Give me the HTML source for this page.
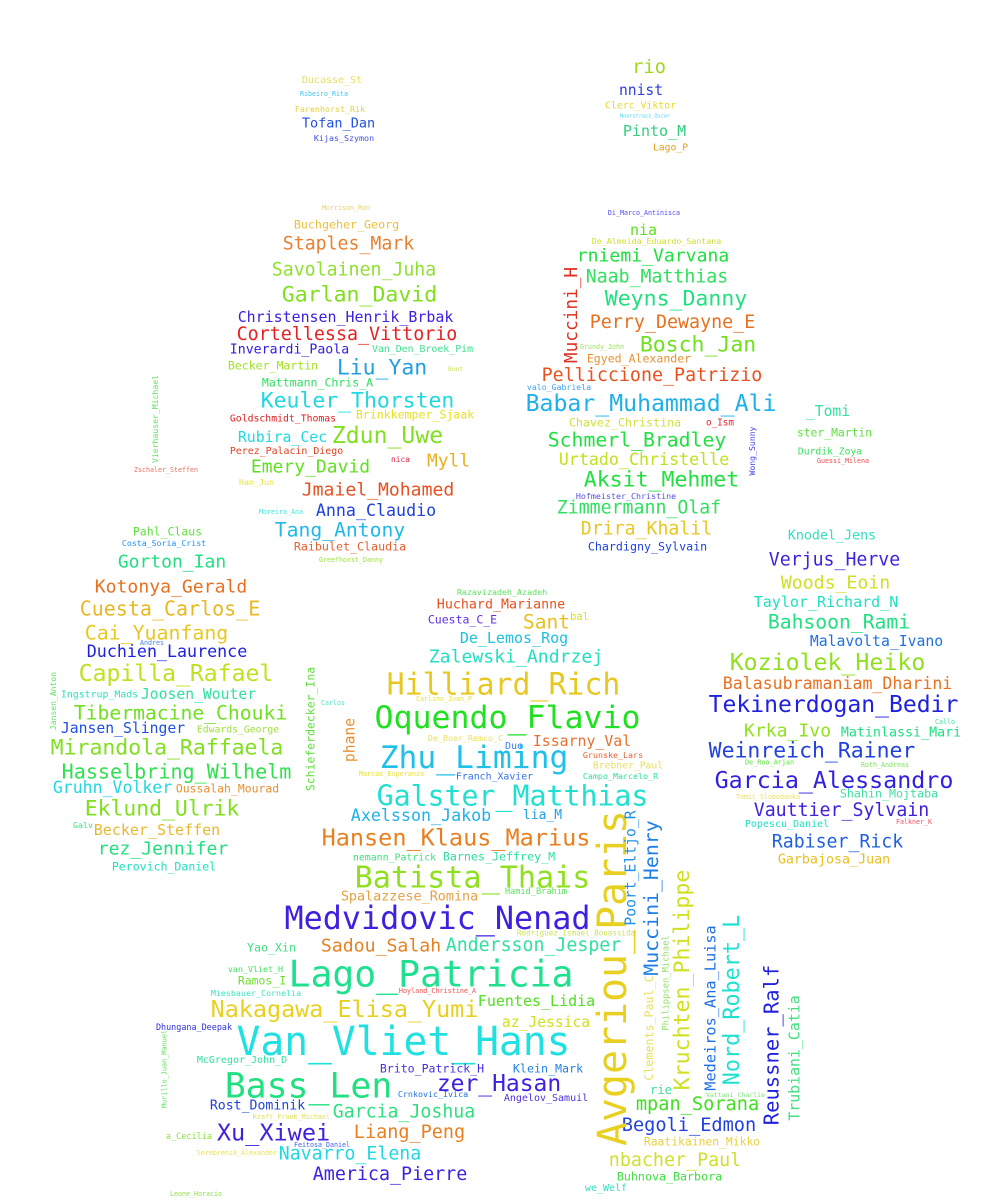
<!DOCTYPE html>
<html>
<head>
<meta charset="utf-8">
<style>
html,body{margin:0;padding:0;background:#fff;}
#cloud{position:relative;width:1000px;height:1200px;overflow:hidden;background:#fff;}
.w{position:absolute;white-space:nowrap;line-height:1;font-family:"DejaVu Sans Mono","Liberation Mono",monospace;}
</style>
</head>
<body>
<div id="cloud"></div>
<script>
// horizontal words: text, left x, right x, center y, colour
const hWords = [
["rio",632,666,66,"#a0d820"],["Ducasse_St",302,362,80,"#e8e060"],["nnist",619,663,90,"#3040e0"],
["Ribeiro_Rita",300,348,93,"#40c0f0"],["Clerc_Viktor",605,676,105,"#e8d830"],["Farenhorst_Rik",295,365,108,"#e0d040"],
["Noorstrasz_Oscar",620,670,116,"#50d0f0"],["Tofan_Dan",302,375,123,"#2050e0"],["Pinto_M",623,686,130,"#30d080"],
["Kijas_Szymon",314,374,137,"#4050e0"],["Lago_P",653,688,147,"#e0a020"],
["Morrison_Ron",322,370,207,"#e8d070"],["Buchgeher_Georg",294,399,224,"#e8c040"],["Staples_Mark",283,414,243,"#e88030"],
["Savolainen_Juha",272,436,269,"#90e030"],["Garlan_David",282,437,294,"#80e020"],["Christensen_Henrik_Brbak",238,453,316,"#4020e0"],
["Cortellessa_Vittorio",237,457,334,"#e82020"],["Inverardi_Paola",230,349,349,"#3020e0"],["Van_Den_Broek_Pim",372,473,349,"#40e090"],
["Becker_Martin",228,318,365,"#a0e020"],["Liu_Yan",337,427,367,"#20a0e0"],["Bont",448,463,369,"#d0e060"],
["Mattmann_Chris_A",262,373,382,"#30e060"],["Keuler_Thorsten",261,454,400,"#20d8e0"],["Brinkkemper_Sjaak",356,474,414,"#e8e020"],
["Goldschmidt_Thomas",230,336,418,"#e02020"],["Rubira_Cec",238,327,437,"#20d8e0"],["Zdun_Uwe",332,443,435,"#80e020"],
["Perez_Palacin_Diego",230,343,451,"#e04020"],["nica",391,410,459,"#e02040"],["Myll",427,470,460,"#e8b020"],
["Emery_David",251,370,466,"#60e020"],["Han_Jun",239,274,481,"#e8e040"],["Zschaler_Steffen",134,198,469,"#f07060"],
["Jmaiel_Mohamed",302,454,489,"#e85020"],["Moreira_Ana",259,303,511,"#40e8e0"],["Anna_Claudio",316,436,510,"#2040e0"],
["Pahl_Claus",133,202,531,"#60e040"],["Tang_Antony",275,405,529,"#20b8e8"],["Costa_Soria_Crist",122,206,542,"#2090f0"],
["Raibulet_Claudia",294,406,546,"#e86030"],["Greefhorst_Danny",319,383,559,"#a0e040"],["Gorton_Ian",118,226,561,"#20e080"],
["Di_Marco_Antinisca",608,680,212,"#5050f0"],["nia",630,657,229,"#60e020"],["De_Almeida_Eduardo_Santana",592,721,240,"#d0e030"],
["rniemi_Varvana",577,729,255,"#20e040"],["Naab_Matthias",586,728,276,"#30e060"],["Weyns_Danny",605,747,298,"#20e080"],
["Perry_Dewayne_E",590,755,322,"#e87020"],["Bosch_Jan",640,756,344,"#70e020"],["Grundy_John",580,624,346,"#a0e060"],
["Egyed_Alexander",587,691,358,"#e89030"],["Pelliccione_Patrizio",542,762,375,"#e85020"],["valo_Gabriela",527,591,386,"#40a0f0"],
["Babar_Muhammad_Ali",526,776,403,"#20b0e8"],["_Tomi",806,850,411,"#30e0a0"],["Chavez_Christina",569,681,422,"#d0e040"],
["o_Ism",706,734,422,"#e82030"],["ster_Martin",797,872,432,"#60e040"],["Schmerl_Bradley",548,726,439,"#20e040"],
["Durdik_Zoya",798,862,451,"#40e060"],["Guessi_Milena",817,869,460,"#f05050"],["Urtado_Christelle",559,729,459,"#c0e020"],
["Aksit_Mehmet",584,739,479,"#20e040"],["Hofmeister_Christine",576,676,495,"#5050e0"],["Zimmermann_Olaf",557,721,507,"#30e060"],
["Drira_Khalil",581,712,528,"#e8c820"],["Knodel_Jens",788,876,535,"#30e0c0"],["Chardigny_Sylvain",588,707,546,"#2040e0"],
["Verjus_Herve",769,900,559,"#4020e0"],
["Kotonya_Gerald",95,247,586,"#e87020"],["Cuesta_Carlos_E",80,260,607,"#e8b820"],["Cai_Yuanfang",85,228,632,"#e8c820"],
["Andres",140,164,642,"#5080f0"],["Duchien_Laurence",87,247,651,"#2020e0"],["Capilla_Rafael",79,273,673,"#c0e020"],
["Ingstrup_Mads",61,138,694,"#30e0c0"],["Joosen_Wouter",141,256,694,"#30e0a0"],["Tibermacine_Chouki",74,287,712,"#70e020"],
["Jansen_Slinger",61,185,728,"#2050e0"],["Edwards_George",197,279,729,"#a0e040"],["Mirandola_Raffaela",51,283,747,"#80e020"],
["Hasselbring_Wilhelm",62,291,770,"#30e050"],["Gruhn_Volker",53,172,787,"#20d8e0"],["Oussalah_Mourad",176,279,788,"#e89030"],
["Eklund_Ulrik",85,239,808,"#80e020"],["Galv",73,93,824,"#40e080"],["Becker_Steffen",94,220,829,"#e8b830"],
["rez_Jennifer",98,228,848,"#20e080"],["Perovich_Daniel",112,216,866,"#20e0c0"],["Carlos",321,345,702,"#50e0d0"],
["Marcos_Esperanza",359,424,773,"#e8e040"],["Razavizadeh_Azadeh",457,547,591,"#60e060"],["Huchard_Marianne",437,565,604,"#e85020"],
["Cuesta_C_E",428,497,619,"#6030e0"],["Sant",523,570,621,"#e8c020"],["bal",570,589,616,"#d8e020"],
["De_Lemos_Rog",460,568,637,"#20c0e0"],["Zalewski_Andrzej",429,603,656,"#20e0c0"],["Hilliard_Rich",387,620,684,"#e8c820"],
["Carlino_Juan_P",416,472,698,"#e8e040"],["Oquendo_Flavio",375,640,717,"#20e020"],["De_Boer_Remco_C",428,503,737,"#e8e060"],
["Issarny_Val",533,631,740,"#e87030"],["Due",505,523,746,"#4080f0"],["Zhu_Liming",380,568,757,"#20c0e8"],
["Grunske_Lars",583,643,754,"#e86030"],["Brebner_Paul",593,663,765,"#e8e060"],["Franch_Xavier",456,533,776,"#3070f0"],
["Campo_Marcelo_R",583,658,775,"#30e0a0"],["Galster_Matthias",377,648,795,"#20e0d0"],["Axelsson_Jakob",351,491,815,"#20b0e8"],
["lia_M",523,562,814,"#20a0e8"],["Hansen_Klaus_Marius",322,590,837,"#e88020"],["nemann_Patrick",353,436,857,"#40e080"],
["Barnes_Jeffrey_M",443,555,856,"#30e0a0"],["Batista_Thais",355,590,877,"#90e020"],["Spalazzese_Romina",341,478,896,"#e8a040"],
["Hamid_Brahim",505,567,891,"#60e060"],["Medvidovic_Nenad",285,590,918,"#4020e0"],["Rodriguez_Ismael_Bouassida",517,635,932,"#d0e060"],
["Sadou_Salah",321,441,945,"#e88020"],["Andersson_Jesper",446,621,945,"#30e0a0"],["Yao_Xin",247,296,947,"#40e080"],
["van_Vliet_H",228,283,968,"#40e060"],["Lago_Patricia",289,573,973,"#20e090"],["Ramos_I",238,286,980,"#70e030"],
["Miesbauer_Cornelia",211,301,992,"#40e0c0"],["Hoyland_Christine_A",399,476,990,"#f05050"],["Nakagawa_Elisa_Yumi",211,478,1008,"#e8d020"],
["Fuentes_Lidia",478,595,1000,"#50e020"],["Dhungana_Deepak",156,232,1026,"#3030e0"],["az_Jessica",502,590,1022,"#d0e020"],
["Van_Vliet_Hans",237,570,1041,"#20e0e0"],["McGregor_John_D",197,287,1060,"#30e0a0"],["Brito_Patrick_H",380,484,1068,"#4030e0"],
["Klein_Mark",513,583,1068,"#2080e8"],["Bass_Len",225,392,1085,"#20e080"],["zer_Hasan",437,561,1083,"#4020e0"],
["Crnkovic_Ivica",398,468,1093,"#2070e0"],["rie",650,672,1089,"#40e0a0"],["Vattani_Charlie",706,765,1094,"#80e080"],
["Angelov_Samuil",504,588,1098,"#5030e0"],["mpan_Sorana",636,759,1104,"#40e020"],["Rost_Dominik",210,305,1105,"#2040e0"],
["Kraft_Frank_Michael",253,330,1116,"#e0e060"],["Garcia_Joshua",333,475,1111,"#30e080"],["Begoli_Edmon",622,756,1125,"#2040e0"],
["Xu_Xiwei",217,330,1132,"#4020e0"],["Liang_Peng",354,465,1132,"#e88020"],["a_Cecilia",166,212,1136,"#90e040"],
["Raatikainen_Mikko",644,760,1141,"#e8d040"],["Feitosa_Daniel",294,350,1144,"#4060f0"],["Serebrenik_Alexander",197,277,1152,"#e8e060"],
["Navarro_Elena",279,421,1153,"#20d8e0"],["nbacher_Paul",609,741,1160,"#d0e030"],["America_Pierre",313,467,1174,"#4020e0"],
["Buhnova_Barbora",617,722,1176,"#40e040"],["we_Welf",585,627,1188,"#30e0c0"],["Leone_Horacio",170,222,1193,"#90e050"],
["Woods_Eoin",781,890,582,"#d0e020"],["Taylor_Richard_N",754,898,601,"#20e0c0"],["Bahsoon_Rami",768,910,621,"#20e080"],
["Malavolta_Ivano",810,943,641,"#2070e0"],["Koziolek_Heiko",730,925,661,"#90e020"],["Balasubramaniam_Dharini",723,952,683,"#e87020"],
["Tekinerdogan_Bedir",709,958,704,"#2020e0"],["Callo",935,955,721,"#40e0a0"],["Krka_Ivo",744,831,730,"#90e020"],
["Matinlassi_Mari",841,961,732,"#20e080"],["Weinreich_Rainer",709,915,750,"#2040e0"],["De_Roo_Arjan",745,794,762,"#60e040"],
["Roth_Andreas",861,909,764,"#80e060"],["Garcia_Alessandro",715,953,779,"#3020e0"],["Tomic_Slobodanka",736,800,796,"#e8e060"],
["Shahin_Mojtaba",840,938,793,"#40e0a0"],["Vauttier_Sylvain",754,929,810,"#4020e0"],["Falkner_K",896,932,821,"#f05060"],
["Popescu_Daniel",745,829,824,"#20e0c0"],["Rabiser_Rick",772,903,841,"#2060e0"],["Garbajosa_Juan",778,890,859,"#e8c020"]
];
// vertical words: text, center x, top y, bottom y, colour
const vWords = [
["Vierhauser_Michael",155,375,463,"#60e060"],["Muccini_H",572,267,363,"#e03020"],["Wong_Sunny",752,426,475,"#4040f0"],
["Jansen_Anton",54,672,730,"#60e060"],["Schieferdecker_Ina",311,667,791,"#60e040"],["phane",351,718,762,"#e89030"],
["Avgeriou_Paris",614,810,1145,"#e8d020"],["Poort_Eltjo_R",632,810,925,"#2090e8"],["Muccini_Henry",652,820,975,"#2080e8"],
["Kruchten_Philippe",683,870,1090,"#d0e020"],["Clements_Paul_C",650,975,1080,"#e8e060"],["Philippsen_Michael",667,935,1030,"#90e060"],
["Medeiros_Ana_Luisa",711,925,1090,"#2070e8"],["Nord_Robert_L",733,915,1085,"#20e0d0"],["Reussner_Ralf",772,965,1125,"#2020e0"],
["Trubiani_Catia",795,995,1120,"#40e080"],["Murillo_Juan_Manuel",165,1030,1108,"#60e060"]
];
const cloud = document.getElementById('cloud');
const ADV = 0.6;
function slug(t){return t.toLowerCase().replace(/_/g,'-');}
hWords.forEach(function(w){
  const el = document.createElement('span');
  el.className = 'w';
  
  
  el.textContent = w[0];
  const fs = (w[2]-w[1])/(w[0].length*ADV);
  el.style.fontSize = fs.toFixed(2)+'px';
  el.style.color = w[4];
  el.style.left = ((w[1]+w[2])/2)+'px';
  el.style.top = (w[3]+1)+'px';
  el.style.transform = 'translate(-50%,-48%)';
  cloud.appendChild(el);
});
vWords.forEach(function(w){
  const el = document.createElement('span');
  el.className = 'w';
  
  
  el.textContent = w[0];
  const fs = (w[3]-w[2])/(w[0].length*ADV);
  el.style.fontSize = fs.toFixed(2)+'px';
  el.style.color = w[4];
  el.style.left = w[1]+'px';
  el.style.top = ((w[2]+w[3])/2)+'px';
  el.style.transform = 'translate(-50%,-50%) rotate(-90deg)';
  cloud.appendChild(el);
});
</script>
</body>
</html>
